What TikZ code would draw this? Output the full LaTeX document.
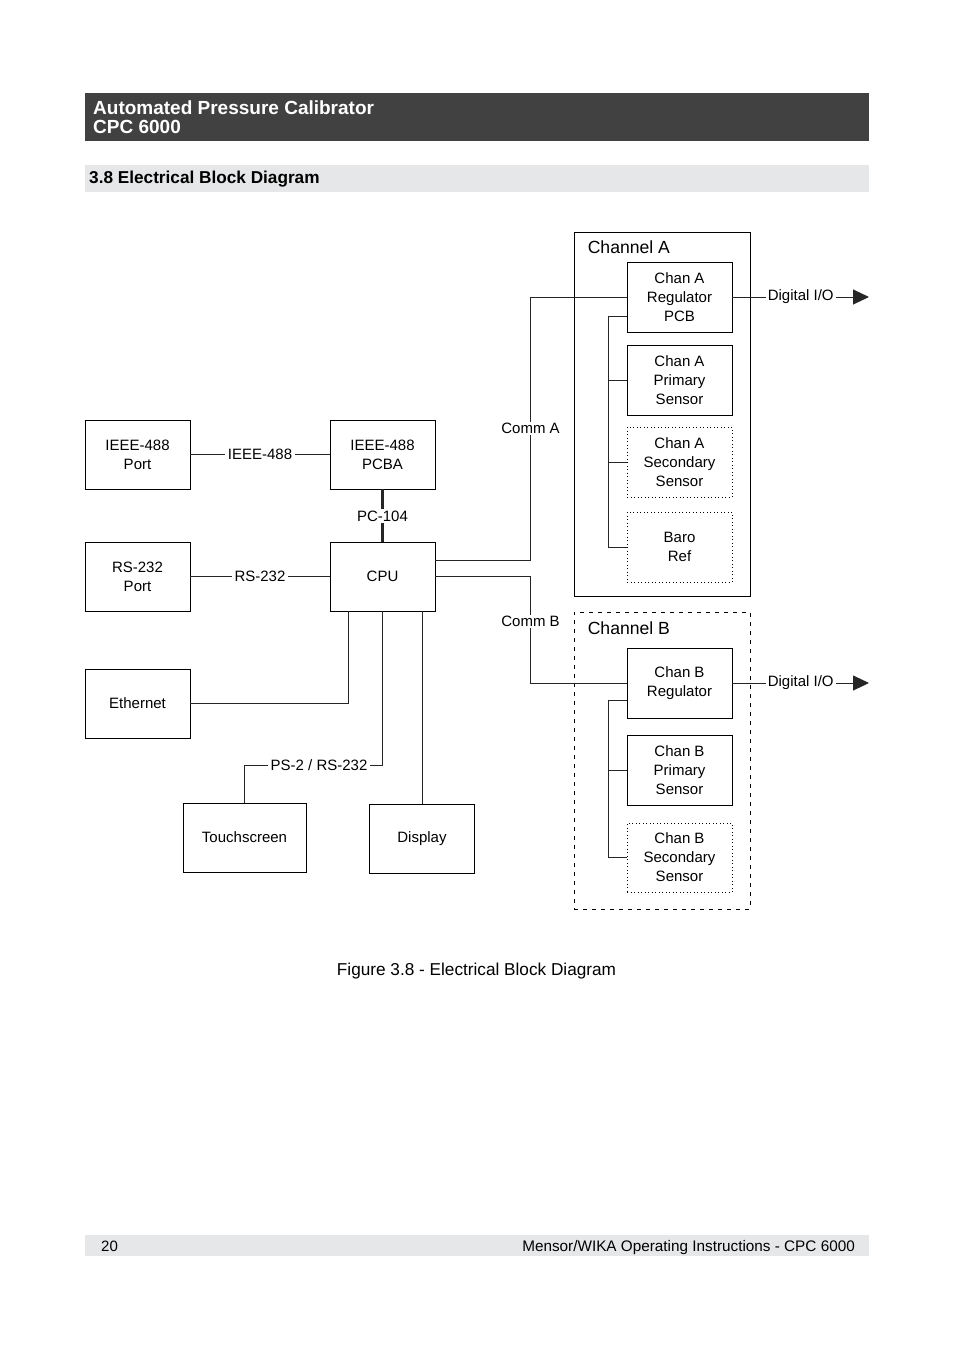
\documentclass[tikz,border=0pt]{standalone}
\usepackage{fontspec}
\setmainfont{Liberation Sans}
\usetikzlibrary{arrows.meta}
\definecolor{hdr}{HTML}{414141}
\definecolor{band}{HTML}{E6E7E8}

\begin{document}
\begin{tikzpicture}[x=1pt,y=-1pt,
    box/.style={draw,line width=0.9pt,minimum width=105pt,minimum height=69pt,
      align=center,inner sep=0pt,font=\fontsize{15}{19}\selectfont},
    optbox/.style={box,line width=0.6pt,dash pattern=on 1pt off 2.5pt},
    lbl/.style={fill=white,inner xsep=3pt,inner ysep=1pt,font=\fontsize{15}{18}\selectfont},
    wire/.style={line width=0.9pt,draw=black!85},
    tip/.style={-{Triangle[length=16pt,width=15pt]}}]
  \useasboundingbox (0,0) rectangle (954,1351);
  % page header and footer
  \fill[hdr] (85,93) rectangle (869,141);
  \node[anchor=base west,inner sep=0pt,text=white,font=\bfseries\fontsize{19}{22}\selectfont] (ttl) at (93,115) {Automated Pressure Calibrator};
  \node[anchor=base west,inner sep=0pt,text=white,font=\bfseries\fontsize{19}{22}\selectfont] (mdl) at (93,134) {CPC 6000};
  \fill[band] (85,165) rectangle (869,192);
  \node[anchor=base west,inner sep=0pt,font=\bfseries\fontsize{17.2}{20}\selectfont] (sec) at (89,184) {3.8 Electrical Block Diagram};
  \fill[band] (85,1235) rectangle (869,1256);
  \node[anchor=base west,inner sep=0pt,font=\fontsize{15}{18}\selectfont] (pg) at (101,1251) {20};
  \node[anchor=base east,inner sep=0pt,font=\fontsize{15.3}{18}\selectfont] (doc) at (855,1251) {Mensor/WIKA Operating Instructions - CPC 6000};
  \node[anchor=base,inner sep=0pt,font=\fontsize{17.2}{20}\selectfont] (cap) at (476.5,975) {Figure 3.8 - Electrical Block Diagram};

  % main unit
  \node[box] (iport) at (137.5,454.5) {IEEE-488\\Port};
  \node[box] (pcba) at (382.5,454.5) {IEEE-488\\PCBA};
  \node[box] (rport) at (137.5,576.5) {RS-232\\Port};
  \node[box] (cpu) at (382.5,576.5) {CPU};
  \node[box] (eth) at (137.5,703.5) {Ethernet};
  \node[box,minimum width=123pt] (touch) at (244.5,837.5) {Touchscreen};
  \node[box] (disp) at (422,838.5) {Display};
  \node[lbl] (pc) at (382.5,516) {PC-104};

  % channels
  \node[draw,line width=0.9pt,minimum width=176pt,minimum height=364pt] (chanA) at (662,414) {};
  \node[anchor=west,inner sep=2pt,font=\fontsize{17.6}{20}\selectfont] at ([xshift=12pt,yshift=-16pt]chanA.north west) {Channel A};
  \node[draw,line width=0.9pt,dash pattern=on 4pt off 5pt,minimum width=176pt,minimum height=297pt] (chanB) at (662,760.5) {};
  \node[anchor=west,inner sep=2pt,font=\fontsize{17.6}{20}\selectfont] at ([xshift=12pt,yshift=-17pt]chanB.north west) {Channel B};
  \node[box,minimum height=70pt] (regA) at (679.5,297) {Chan A\\Regulator\\PCB};
  \node[box,minimum height=70pt] (priA) at (679.5,380) {Chan A\\Primary\\Sensor};
  \node[optbox,minimum height=70pt] (secA) at (679.5,462) {Chan A\\Secondary\\Sensor};
  \node[optbox,minimum height=70pt] (baro) at (679.5,547) {Baro\\Ref};
  \node[box,minimum height=70pt] (regB) at (679.5,683) {Chan B\\Regulator};
  \node[box,minimum height=70pt] (priB) at (679.5,770) {Chan B\\Primary\\Sensor};
  \node[optbox] (secB) at (679.5,857.5) {Chan B\\Secondary\\Sensor};
  \coordinate (outA) at (869,297);
  \coordinate (outB) at (869,683);

  % connections
  \draw[wire] (iport) -- node[lbl] {IEEE-488} (pcba);
  \draw[wire] (rport) -- node[lbl] {RS-232} (cpu);
  \draw[wire,line width=3pt] (pcba) -- (pc) (pc) -- (cpu);
  \draw[wire] ([yshift=16.5pt]cpu.east) -| node[lbl,pos=0.75] {Comm A} ([xshift=-96pt]regA.west) -- (regA.west);
  \draw[wire] (cpu.east) -| node[lbl,pos=0.71] {Comm B} ([xshift=-96pt]regB.west) -- (regB.west);
  \draw[wire] (eth.east) -| ([xshift=-34.5pt]cpu.south);
  \draw[wire] (cpu.south) |- node[lbl,pos=0.73] {PS-2 / RS-232} ([yshift=-154pt]cpu.south -| touch.north) -- (touch.north);
  \draw[wire] (disp.north) -- (disp.north |- cpu.south);
  \draw[wire] ([yshift=-19pt]regA.west) -- ++(-18,0) |- (baro.west);
  \draw[wire] (priA.west) -- ++(-18,0);
  \draw[wire] (secA.west) -- ++(-18,0);
  \draw[wire] ([yshift=-17pt]regB.west) -- ++(-18,0) |- (secB.west);
  \draw[wire] (priB.west) -- ++(-18,0);
  \draw[wire,tip] (regA.east) -- node[lbl,inner xsep=2pt] {Digital I/O} (outA);
  \draw[wire,tip] (regB.east) -- node[lbl,inner xsep=2pt] {Digital I/O} (outB);
\end{tikzpicture}
\end{document}
